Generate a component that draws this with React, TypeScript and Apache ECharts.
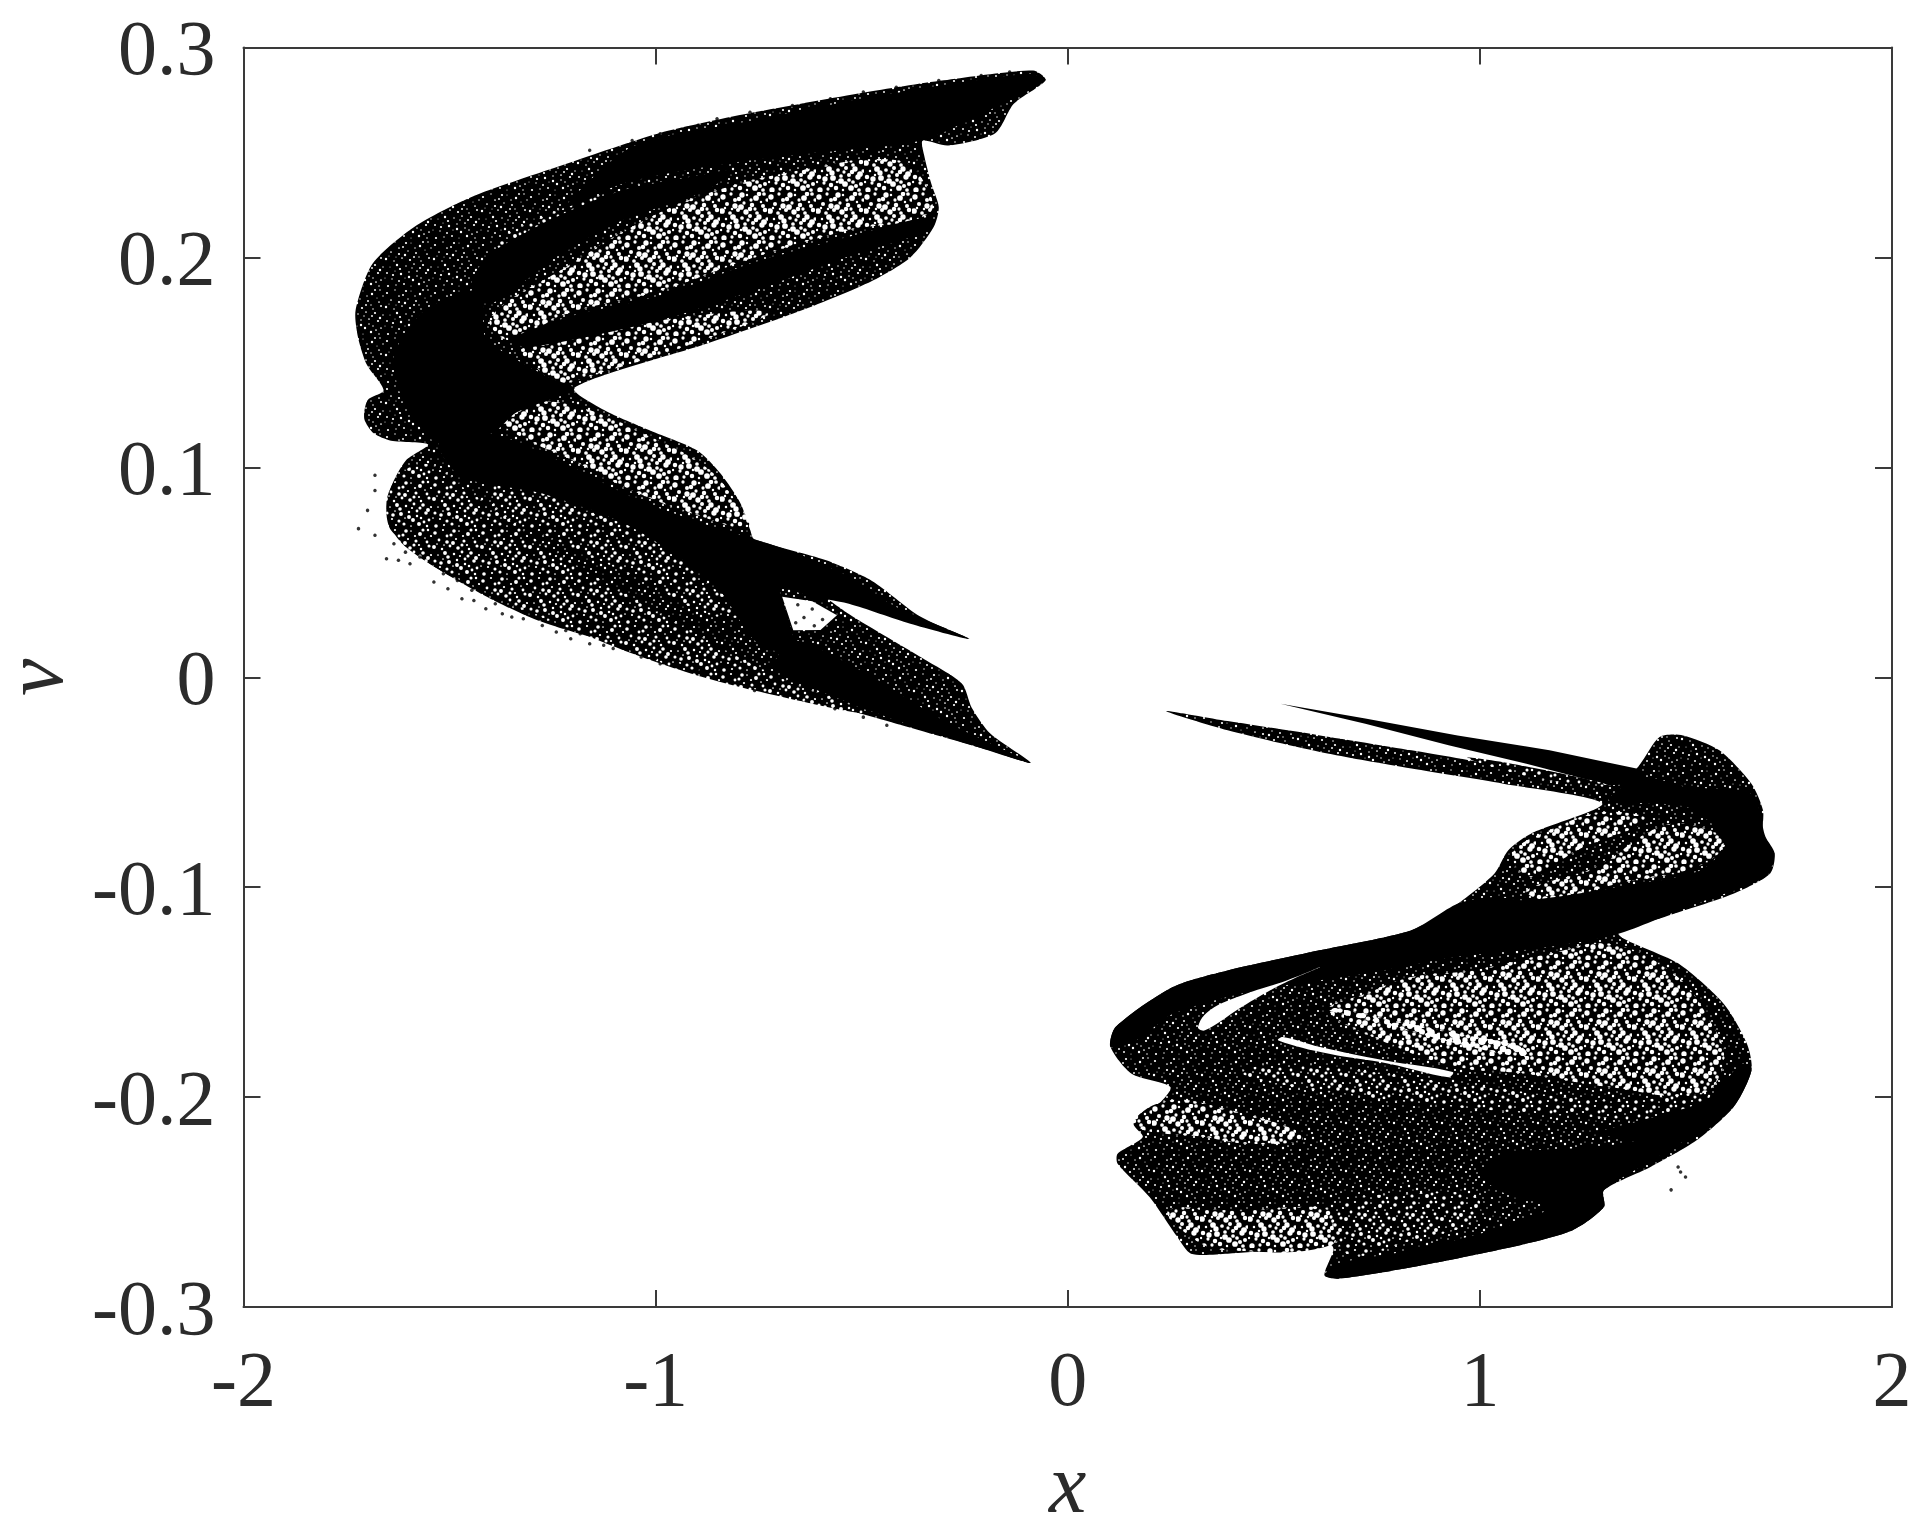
import React, { useEffect, useRef } from "react";
import * as echarts from "echarts";

// Outlines and loose points of the attractor as [x, v].
const X_TICK_LABELS = ["-2", "-1", "0", "1", "2"];
const Y_TICK_LABELS = ["-0.3", "-0.2", "-0.1", "0", "0.1", "0.2", "0.3"];

const LEFT_OUTLINE = [[-0.084,.289],[-0.301,.2844],[-0.496,.2785],[-0.761,.2691],[-0.991,.2592],[-1.218,.2445],[-1.448,.2287],[-1.585,.2146],[-1.687,.197],[-1.728,.1748],[-1.722,.1619],[-1.701,.149],[-1.66,.1367],[-1.699,.132],[-1.707,.1232],[-1.684,.1162],[-1.642,.1127],[-1.552,.1109],[-1.606,.1033],[-1.642,.0906],[-1.653,.0779],[-1.642,.07],[-1.561,.0557],[-1.424,.0398],[-1.287,.0271],[-1.103,.016],[-0.875,.0033],[-0.645,-.0094],[-0.416,-.0221],[-0.188,-.0349],[-0.09,-.0408],[-0.188,-.0268],[-0.233,-.0145],[-0.257,-.003],[-0.352,.009],[-0.442,.0195],[-0.531,.0301],[-0.588,.0388],[-0.418,.0289],[-0.239,.0183],[-0.358,.0289],[-0.475,.0459],[-0.588,.0558],[-0.761,.0658],[-0.77,.0699],[-0.794,.0828],[-0.842,.0969],[-0.899,.108],[-1.012,.1174],[-1.125,.1273],[-1.197,.1379],[-0.875,.159],[-0.645,.1748],[-0.475,.1888],[-0.382,.2],[-0.325,.2146],[-0.313,.224],[-0.331,.2351],[-0.349,.2492],[-0.352,.2556],[-0.29,.2533],[-0.176,.2592],[-0.131,.2732],[-0.054,.2844]];
const RIGHT_OUTLINE = [[.238,-.0161],[.388,-.0209],[.612,-.0277],[.834,-.0348],[1.057,-.0424],[1.313,-.0515],[1.38,-.0435],[1.436,-.0285],[1.493,-.0277],[1.581,-.0348],[1.659,-.0507],[1.687,-.0634],[1.687,-.076],[1.715,-.084],[1.704,-.0936],[1.615,-.1031],[1.448,-.1142],[1.336,-.1223],[1.481,-.1363],[1.592,-.1556],[1.648,-.1746],[1.659,-.1873],[1.615,-.2048],[1.525,-.2207],[1.414,-.2333],[1.301,-.2444],[1.301,-.2524],[1.224,-.2635],[1.057,-.2723],[.834,-.2811],[.656,-.2865],[.623,-.2849],[.645,-.2729],[.639,-.2705],[.5,-.273],[.388,-.2746],[.299,-.2746],[.266,-.2667],[.199,-.2477],[.121,-.2317],[.121,-.227],[.182,-.219],[.16,-.2127],[.222,-.2031],[.249,-.1952],[.155,-.1889],[.104,-.1762],[.116,-.1666],[.255,-.1476],[.388,-.1397],[.611,-.1301],[.834,-.1205],[.946,-.1079],[1.035,-.0936],[1.069,-.0824],[1.124,-.0745],[1.297,-.0602],[1.057,-.0507],[.834,-.0435],[.612,-.0356],[.388,-.0253]];
const UPPER_SPIKE = [[.516,-.0126],[.722,-.0197],[.946,-.0277],[1.169,-.0348],[1.38,-.0435],[1.391,-.0507],[1.313,-.0515],[1.113,-.0412],[.924,-.0324],[.722,-.0221]];

const WING_SPECKLE = [[-1.4,.1716],[-1.218,.1953],[-1.057,.2146],[-.875,.2304],[-.645,.2416],[-.415,.2463],[-.346,.2351],[-.337,.2208],[-.531,.2129],[-.761,.2],[-.988,.1842],[-1.218,.173],[-1.355,.1607]];
const WING_LOWER_SPECKLE = [[-1.332,.1557],[-1.218,.1605],[-.989,.17],[-.725,.174],[-.875,.1613],[-1.195,.1414],[-1.241,.1398],[-1.299,.1494]];
const WING_SLIVER = [[-1.39,.2073],[-1.275,.2193],[-1.035,.2359],[-1.103,.2296],[-1.275,.216],[-1.378,.205]];
const LOBE_SPECKLE = [[-1.379,.1223],[-1.287,.1311],[-1.161,.1273],[-1.012,.1144],[-.887,.1015],[-.818,.0875],[-.776,.0717],[-.897,.0771],[-1.057,.089],[-1.218,.1049],[-1.31,.1129]];
const FAN_SPECKLE = [[-1.642,.0906],[-1.561,.1017],[-1.447,.0875],[-1.275,.0636],[-1.103,.0429],[-.931,.0239],[-.703,.0001],[-.474,-.0174],[-.76,-.0063],[-.989,.0066],[-1.218,.0239],[-1.39,.0383],[-1.561,.0557],[-1.642,.0715]];
const FAN_INNER_SPECKLE = [[-1.378,.0954],[-1.195,.0811],[-.989,.0652],[-.885,.0461],[-.782,.0303],[-.874,.0303],[-1.046,.0477],[-1.24,.0652],[-1.389,.0811]];
const TAIL_GAP = [[-.693,.0383],[-.62,.0362],[-.56,.0295],[-.6,.0225],[-.666,.0224]];
const TAIL_GAP_POINTS = [[-.655,.0345],[-.62,.0325],[-.64,.0285],[-.595,.0275],[-.615,.0245],[-.66,.026]];
const RIGHT_TOP_SPECKLE = [[1.079,-.084],[1.169,-.0729],[1.301,-.0642],[1.403,-.0681],[1.236,-.0824],[1.124,-.0952]];
const RIGHT_MID_SPECKLE = [[1.113,-.1015],[1.281,-.0904],[1.436,-.0713],[1.536,-.0713],[1.592,-.0793],[1.525,-.0904],[1.336,-.0983],[1.169,-.1063]];
const RIGHT_BIG_SPECKLE = [[.722,-.1508],[.834,-.1428],[.979,-.1397],[1.169,-.1317],[1.313,-.127],[1.47,-.1413],[1.558,-.1635],[1.592,-.1825],[1.537,-.1985],[1.313,-.1952],[1.113,-.1889],[.946,-.1857],[.779,-.1746],[.634,-.1587]];
const RIGHT_NOTCH_SPECKLE = [[.16,-.2111],[.244,-.2016],[.366,-.2048],[.555,-.2159],[.567,-.2207],[.433,-.2222],[.333,-.219],[.188,-.2159]];
const RIGHT_FOOT_SPECKLE = [[.244,-.254],[.411,-.254],[.611,-.2524],[.645,-.2556],[.639,-.2705],[.388,-.273],[.31,-.2682]];
const RIGHT_LOWER_SPECKLE = [[.656,-.2524],[.834,-.246],[.99,-.2476],[.99,-.2587],[.834,-.2682],[.678,-.2746]];
const RIGHT_WAIST_SPECKLE = [[.522,-.1841],[.946,-.1936],[1.313,-.2016],[1.558,-.2],[1.503,-.2111],[1.28,-.2095],[.946,-.2047],[.611,-.1968],[.422,-.1888]];
const SPIKE_SPECKLE = [[.97,-.0385],[1.113,-.0425],[1.313,-.0515],[1.16,-.049]];

const TOP_BAND = [[-1.057,.2527],[-.761,.2653],[-.475,.2764],[-.096,.2875],[-.054,.2844],[-.188,.2703],[-.358,.2556],[-.645,.2492],[-.875,.2433],[-1.081,.2351],[-1.218,.224]];
const WING_BAND = [[-1.447,.1874],[-1.401,.2017],[-1.241,.2193],[-1.081,.2319],[-.875,.2398],[-.817,.2415],[-.875,.2319],[-1.081,.2176],[-1.241,.2002],[-1.401,.1779]];
const WING_UNDER_BAND = [[-1.355,.1607],[-1.218,.1713],[-.988,.1818],[-.761,.1976],[-.531,.2099],[-.337,.2193],[-.337,.2129],[-.531,.2006],[-.761,.1842],[-.988,.1701],[-1.307,.1572]];
const BEND_BAND = [[-1.561,.1748],[-1.424,.1842],[-1.412,.1619],[-1.263,.1431],[-1.197,.1373],[-1.337,.1262],[-1.397,.1162],[-1.528,.1115],[-1.606,.1291],[-1.636,.1525]];
const DIAGONAL_BAND = [[-1.527,.1113],[-1.401,.116],[-1.218,.1017],[-1.058,.0858],[-.897,.0739],[-.771,.0652],[-.703,.0429],[-.663,.0113],[-.76,.0176],[-.851,.0429],[-1.058,.0715],[-1.275,.0875],[-1.47,.0954]];
const TAIL_BAND = [[-.663,.0176],[-.474,.0001],[-.302,-.0206],[-.09,-.0408],[-.245,-.0316],[-.416,-.0206],[-.645,-.0031],[-.714,.0049]];
const SPIKE_BAND = [[-.772,.0652],[-.645,.0581],[-.531,.0478],[-.416,.0335],[-.239,.0183],[-.382,.0255],[-.531,.035],[-.645,.0398],[-.714,.0462]];
const S_BAND = [[1.313,-.0587],[1.391,-.0475],[1.503,-.0523],[1.659,-.0555],[1.693,-.076],[1.715,-.084],[1.693,-.0952],[1.503,-.1094],[1.336,-.1222],[1.169,-.1285],[.946,-.1332],[.722,-.1412],[.5,-.1475],[.388,-.1523],[.255,-.1603],[.166,-.173],[.104,-.1762],[.116,-.1666],[.255,-.1476],[.388,-.1397],[.611,-.1301],[.834,-.1205],[.946,-.1079],[1.035,-.1047],[1.113,-.1063],[1.336,-.0999],[1.536,-.092],[1.597,-.0778],[1.503,-.0618]];
const RIGHT_BOTTOM_BAND = [[1.503,-.219],[1.301,-.2444],[1.301,-.2524],[1.224,-.2635],[1.057,-.2723],[.834,-.2811],[.656,-.2865],[.623,-.2849],[.656,-.2793],[.834,-.273],[1.057,-.2619],[1.169,-.2524],[1.05,-.245],[1.0,-.2365],[1.057,-.227],[1.281,-.2238]];
const RIGHT_EDGE_BAND = [[1.659,-.1873],[1.615,-.2048],[1.503,-.2207],[1.281,-.2174],[1.391,-.2111],[1.547,-.2016],[1.636,-.1841]];

const RIGHT_GAP_CRESCENT = [[.316,-.1666],[.344,-.1587],[.433,-.1508],[.533,-.1444],[.612,-.1381],[.522,-.146],[.422,-.1571],[.333,-.1682]];
const RIGHT_GAP_LOW = [[.511,-.173],[.634,-.1794],[.779,-.1841],[.924,-.1905],[.934,-.1881],[.767,-.1825],[.612,-.1762],[.522,-.1714]];
const RIGHT_GAP_HIGH = [[.634,-.1587],[.767,-.1651],[.946,-.1746],[1.113,-.1809],[1.101,-.1762],[.946,-.1697],[.79,-.1635],[.656,-.1579]];

const LOOSE_POINTS = [[-1.681,.0962],[-1.681,.089],[-1.699,.0795],[-1.721,.0708],[-1.681,.0676],[-1.653,.0565],[-1.624,.0557],[-1.596,.0541],[-1.538,.0454],[-1.504,.0422],[-1.47,.0374],[-1.441,.0366],[-1.412,.0326],[-1.372,.0303],[-1.349,.0287],[-1.241,.0216],[-1.206,.0183],[-1.16,.016],[-1.103,.0137],[-1.035,.0096],[-.989,.0064],[-.875,.0017],[1.481,-.2333],[1.487,-.2357],[1.499,-.2381],[1.464,-.2442],
[-1.635,.0636],[-1.607,.0596],[-1.572,.0573],[-1.515,.0493],[-1.481,.0461],[-1.446,.0414],[-1.389,.035],[-1.321,.0279],[-1.275,.0247],[-1.218,.0223],[-1.183,.0207],[-1.126,.0152],[-1.057,.0128],[-1,.0088],[-.943,.0057],[-.897,.0033],[-.817,-.0023],[-.76,-.0063],[-.691,-.0086],[-.634,-.011],[-.565,-.015],[-.496,-.019],[-.439,-.0229],
[-.897,.2629],[-.851,.266],[-.771,.2692],[-.668,.2724],[-.576,.2756],[-.496,.2788],[-.416,.2811],[-.313,.2843],[-.21,.2867],[-.141,.2883],[-1.057,.2557],[-.989,.2589],[-1.16,.251]];

// Stipple cell used to show the density of the dots inside the outlines.
const STIPPLE_CELL = [[3,5],[11,2],[19,7],[27,3],[36,6],[44,2],[7,12],[15,14],[24,11],[32,13],[41,10],[2,19],[10,21],[18,18],[26,20],[35,17],[45,18],[6,27],[13,25],[22,26],[30,24],[39,25],[47,27],[3,33],[11,31],[17,34],[25,32],[33,31],[42,33],[8,39],[15,41],[21,38],[29,40],[37,38],[45,40],[4,46],[12,45],[20,44],[27,46],[35,44],[43,46],[15,8],[22,3],[31,8],[39,2],[5,16],[21,15],[37,21],[43,14],[16,29],[28,28],[36,28],[1,38],[25,37],[33,36],[40,42],[9,35],[47,8],[30,17],[12,17],[44,30]];
const STIPPLE_SCALE = [1.3, 0.8, 1.1, 0.6, 1.4, 0.9, 1.0];

function stipple(radius: number) {
  const c = document.createElement("canvas");
  c.width = 48;
  c.height = 48;
  const g = c.getContext("2d")!;
  g.fillStyle = "#000";
  g.fillRect(0, 0, 48, 48);
  g.fillStyle = "#fff";
  STIPPLE_CELL.forEach(([a, b], i) => {
    g.beginPath();
    g.arc(a, b, radius * STIPPLE_SCALE[i % STIPPLE_SCALE.length], 0, Math.PI * 2);
    g.fill();
  });
  return { image: c, repeat: "repeat", imageWidth: 48, imageHeight: 48 };
}

export default function App() {
  const ref = useRef<HTMLDivElement>(null);
  useEffect(() => {
    const chart = echarts.init(ref.current!, undefined, { renderer: "svg" });
    const dense = stipple(0.85);
    const mid = stipple(1.4);
    const open = stipple(2.05);
    const wide = stipple(3.0);
    const layers: [number[][], any, number][] = [
      [LEFT_OUTLINE, dense, 0.25],
      [RIGHT_OUTLINE, dense, 0.25],
      [UPPER_SPIKE, "#000", 0],
      ...[WING_SPECKLE, WING_LOWER_SPECKLE, LOBE_SPECKLE, RIGHT_TOP_SPECKLE, RIGHT_MID_SPECKLE, RIGHT_BIG_SPECKLE, RIGHT_NOTCH_SPECKLE, RIGHT_FOOT_SPECKLE].map((p) => [p, open, 0.4] as [number[][], any, number]),
      ...[WING_SLIVER, FAN_SPECKLE, FAN_INNER_SPECKLE, RIGHT_LOWER_SPECKLE, RIGHT_WAIST_SPECKLE, SPIKE_SPECKLE].map((p) => [p, mid, 0.4] as [number[][], any, number]),
      [RIGHT_GAP_HIGH, wide, 0.4],
      ...[TOP_BAND, WING_BAND, WING_UNDER_BAND, BEND_BAND, DIAGONAL_BAND, TAIL_BAND, SPIKE_BAND, S_BAND, RIGHT_BOTTOM_BAND, RIGHT_EDGE_BAND].map((p) => [p, "#000", 0.25] as [number[][], any, number]),
      [TAIL_GAP, "#fff", 0],
      ...[RIGHT_GAP_CRESCENT, RIGHT_GAP_LOW].map((p) => [p, "#fff", 0.4] as [number[][], any, number]),
    ];
    const line = { show: true, onZero: false, lineStyle: { color: "#3a3a3a", width: 2 } };
    const tick = { show: true, inside: true, length: 17, lineStyle: { color: "#3a3a3a", width: 2 } };
    const font = { fontFamily: "Liberation Serif", fontSize: 78, color: "#2b2b2b" };
    const nameFont = { fontFamily: "Liberation Serif", fontStyle: "italic", fontSize: 84, lineHeight: 56, color: "#2b2b2b" };
    const fmt = (labels: string[]) => (_: number, i: number) => labels[i];
    chart.setOption({
      animation: false,
      backgroundColor: "#fff",
      grid: { left: 243.5, top: 47.5, width: 1648.5, height: 1259.5, show: false, outerBoundsMode: "none" },
      xAxis: [
        { type: "value", min: -2, max: 2, interval: 1, splitLine: { show: false }, axisLine: line, axisTick: tick,
          axisLabel: { ...font, margin: 32, formatter: fmt(X_TICK_LABELS) },
          name: "x", nameLocation: "middle", nameGap: 148, nameTextStyle: nameFont },
        { type: "value", position: "top", min: -2, max: 2, interval: 1, splitLine: { show: false }, axisLine: line, axisTick: tick, axisLabel: { show: false } },
      ],
      yAxis: [
        { type: "value", min: -0.3, max: 0.3, interval: 0.1, splitLine: { show: false }, axisLine: line, axisTick: tick,
          axisLabel: { ...font, margin: 28, formatter: fmt(Y_TICK_LABELS) },
          name: "v", nameLocation: "middle", nameGap: 190, nameRotate: 90, nameTextStyle: { ...nameFont, lineHeight: 40 } },
        { type: "value", position: "right", min: -0.3, max: 0.3, interval: 0.1, splitLine: { show: false }, axisLine: line, axisTick: tick, axisLabel: { show: false } },
      ],
      series: [
        {
          type: "custom",
          coordinateSystem: "cartesian2d",
          clip: false,
          silent: true,
          data: layers.map(([p]) => [p[0][0], p[0][1]]),
          renderItem: (params: any, api: any) => {
            const [pts, fill, smooth] = layers[params.dataIndex];
            return { type: "polygon", shape: { points: pts.map((p) => api.coord(p)), smooth }, style: { fill } };
          },
        },
        { type: "scatter", data: [...LOOSE_POINTS, ...TAIL_GAP_POINTS], symbolSize: 3.5, itemStyle: { color: "#000" }, silent: true },
      ],
    });
    return () => chart.dispose();
  }, []);
  return <div ref={ref} style={{ position: "absolute", left: 0, top: 0, width: 1929, height: 1528, filter: "blur(0.6px)" }} />;
}
